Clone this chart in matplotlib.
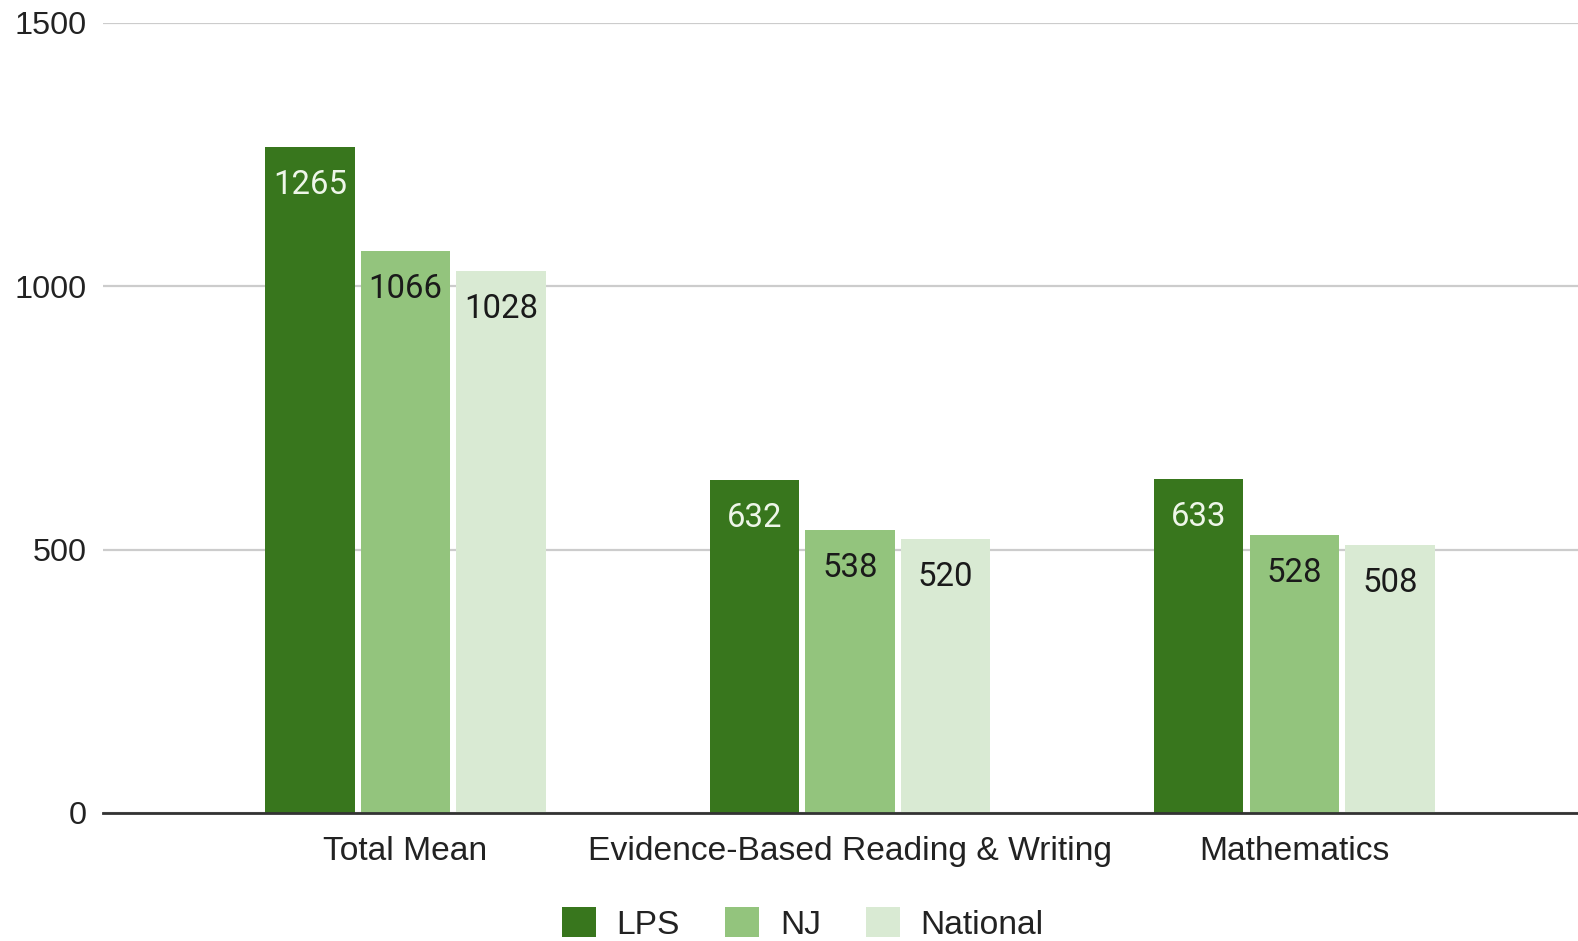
import matplotlib.pyplot as plt
import numpy as np

categories = ['Total Mean', 'Evidence-Based Reading & Writing', 'Mathematics']
series = ['LPS', 'NJ', 'National']
lps = [1265, 632, 633]
nj = [1066, 538, 528]
national = [1028, 520, 508]
yticks = [0, 500, 1000, 1500]

colors = ['#38761d', '#93c47d', '#d9ead3']
label_colors = ['#eef6e9', '#1a1a1a', '#1a1a1a']

fig = plt.figure(figsize=(15.78, 9.41), dpi=100)
ax = fig.add_axes([103 / 1578, 1 - 813 / 941, 1 - 103 / 1578, (813 - 22.7) / 941])

x = np.arange(len(categories))
width = 0.2013
step = 0.2153

for i, (name, vals) in enumerate(zip(series, [lps, nj, national])):
    pos = x + (i - 1) * step
    bars = ax.bar(pos, vals, width, color=colors[i], label=name, zorder=3)
    for b, v in zip(bars, vals):
        ax.annotate(str(v), (b.get_x() + b.get_width() / 2, v),
                    xytext=(0, -38), textcoords='offset pixels',
                    ha='center', va='center', fontsize=23.7,
                    family='Roboto', color=label_colors[i], zorder=4)

ax.set_xlim(-0.6805, 2.638)
ax.set_ylim(0, 1500)
ax.set_yticks(yticks)
ax.set_yticklabels([str(t) for t in yticks], family='Liberation Sans',
                   fontsize=23.3, color='#222222')
ax.set_xticks(x)
ax.set_xticklabels(categories, family='Liberation Sans', fontsize=24.2,
                   color='#222222')
ax.tick_params(axis='y', length=0, pad=11.5)
ax.tick_params(axis='x', length=0, pad=16.5)

ax.grid(axis='y', color='#cccccc', linewidth=1.6, zorder=0)
for s in ['top', 'right', 'left']:
    ax.spines[s].set_visible(False)
ax.spines['bottom'].set_color('#333333')
ax.spines['bottom'].set_linewidth(2)
ax.spines['bottom'].set_zorder(5)

leg = fig.legend(loc='center', bbox_to_anchor=(803 / 1578, 1 - 924 / 941),
                 ncol=3, frameon=False,
                 prop={'family': 'Liberation Sans', 'size': 24.2},
                 handlelength=1.0, handleheight=1.0, handletextpad=0.62,
                 columnspacing=1.35)
for t in leg.get_texts():
    t.set_color('#222222')

plt.savefig('out.png', dpi=100)
